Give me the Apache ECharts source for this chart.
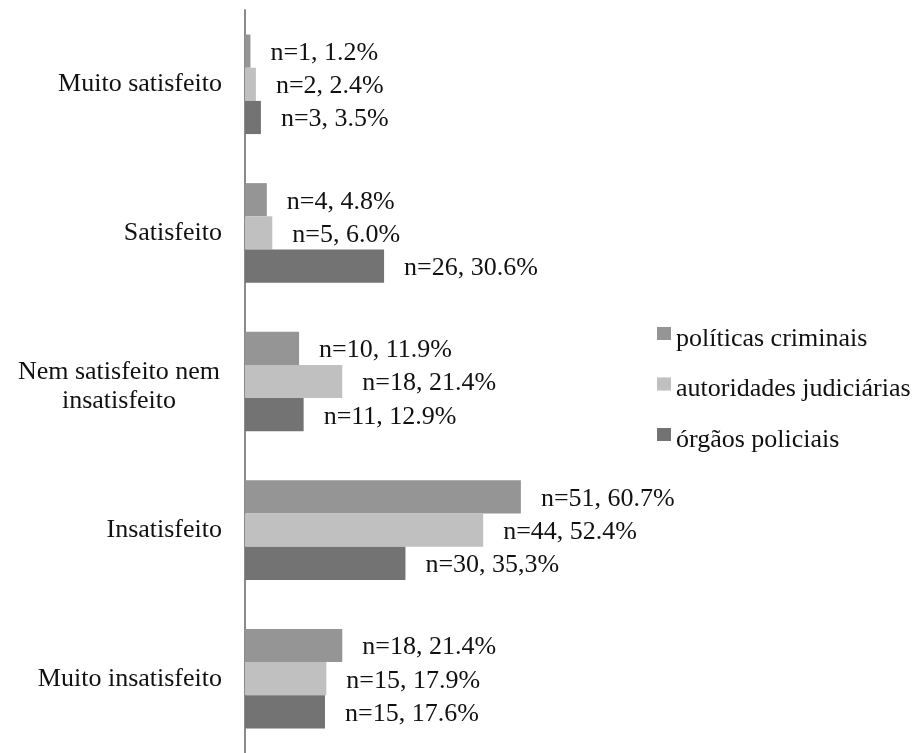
<!DOCTYPE html>
<html>
<head>
<meta charset="utf-8">
<script src="https://cdn.jsdelivr.net/npm/echarts@6/dist/echarts.min.js"></script>
<style>html,body{margin:0;padding:0;background:#fff}#c{width:917px;height:753px}</style>
</head>
<body>
<div id="c"></div>
<script>
var categories = ['Muito satisfeito', 'Satisfeito', 'Nem satisfeito nem\ninsatisfeito', 'Insatisfeito', 'Muito insatisfeito'];
var seriesNames = ['políticas criminais', 'autoridades judiciárias', 'órgãos policiais'];
var politicasPct = [1.2, 4.8, 11.9, 60.7, 21.4];
var autoridadesPct = [2.4, 6.0, 21.4, 52.4, 17.9];
var orgaosPct = [3.5, 30.6, 12.9, 35.3, 17.6];
var politicasLabels = ['n=1, 1.2%', 'n=4, 4.8%', 'n=10, 11.9%', 'n=51, 60.7%', 'n=18, 21.4%'];
var autoridadesLabels = ['n=2, 2.4%', 'n=5, 6.0%', 'n=18, 21.4%', 'n=44, 52.4%', 'n=15, 17.9%'];
var orgaosLabels = ['n=3, 3.5%', 'n=26, 30.6%', 'n=11, 12.9%', 'n=30, 35,3%', 'n=15, 17.6%'];

var colors = ['#959595', '#c0c0c0', '#737373'];
var FONT = '"Liberation Serif", "Times New Roman", serif';

function mk(name, vals, labels, color) {
  return {
    name: name, type: 'bar', data: vals,
    barGap: '0%', barCategoryGap: '33%',
    itemStyle: { color: color },
    label: {
      show: true, position: 'right', distance: 20, offset: [0, 2],
      fontFamily: FONT, fontSize: 26, color: '#111',
      formatter: function (p) { return labels[p.dataIndex]; }
    }
  };
}

var chart = echarts.init(document.getElementById('c'));
chart.setOption({
  animation: false,
  color: colors,
  legend: {
    orient: 'vertical', left: 657, top: 325, padding: 0,
    itemWidth: 14, itemHeight: 24, itemGap: 22.5,
    icon: 'path://M0,0L14,0L14,13L0,13Z M0,24L0.01,24',
    textStyle: { fontFamily: FONT, fontSize: 26, color: '#111', lineHeight: 28 },
    data: seriesNames
  },
  grid: { left: 245, top: 10, width: 454.5, height: 749, containLabel: false },
  xAxis: { type: 'value', min: 0, max: 100, show: false },
  yAxis: {
    type: 'category', data: categories, inverse: true,
    axisLine: { show: true, lineStyle: { color: '#8a8a8a', width: 2 } },
    axisTick: { show: false },
    axisLabel: {
      margin: 23, fontFamily: FONT, fontSize: 26, color: '#111',
      formatter: function (v) {
        if (v.indexOf('\n') < 0) return v;
        var parts = v.split('\n');
        return '{t|' + parts[0] + '}\n{t|' + parts[1] + '}';
      },
      rich: {
        t: { width: 206, align: 'center', fontFamily: FONT, fontSize: 26, lineHeight: 28.5, padding: [10, 0, 0, 0], color: '#111' }
      }
    }
  },
  series: [
    mk(seriesNames[0], politicasPct, politicasLabels, colors[0]),
    mk(seriesNames[1], autoridadesPct, autoridadesLabels, colors[1]),
    mk(seriesNames[2], orgaosPct, orgaosLabels, colors[2])
  ]
});
</script>
</body>
</html>
